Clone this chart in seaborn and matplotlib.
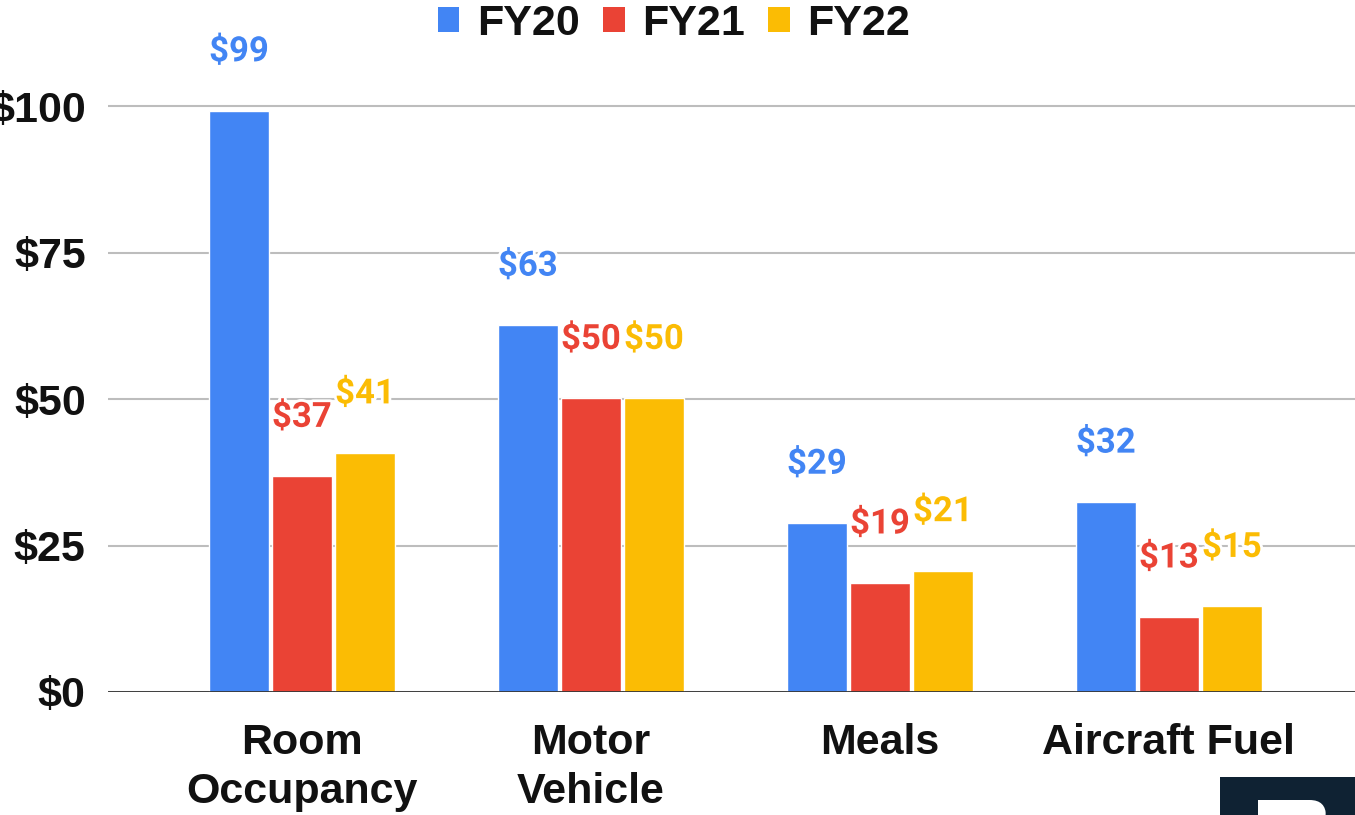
import pandas as pd
import matplotlib
matplotlib.use("Agg")
import matplotlib.pyplot as plt
import matplotlib.patheffects as pe
from matplotlib.patches import Patch, Rectangle, FancyBboxPatch
import seaborn as sns

# chart data
categories = ["Room\nOccupancy", "Motor\nVehicle", "Meals", "Aircraft Fuel"]
years = ["FY20", "FY21", "FY22"]
fy20 = [99.2, 62.6, 28.8, 32.4]
fy21 = [36.8, 50.1, 18.6, 12.8]
fy22 = [40.8, 50.1, 20.7, 14.6]
colors = ["#4285F4", "#EA4335", "#FBBC04"]
yticks = [0, 25, 50, 75, 100]

rows = []
for year, vals in zip(years, [fy20, fy21, fy22]):
    for cat, v in zip(categories, vals):
        rows.append({"category": cat, "year": year, "value": v})
df = pd.DataFrame(rows)

sns.set_style("white")
plt.rcParams["font.family"] = ["Liberation Sans", "DejaVu Sans"]

fig = plt.figure(figsize=(13.55, 8.15), dpi=100)
ax = fig.add_axes([108 / 1355, 1 - 692 / 815, 1 - 108 / 1355, 692 / 815])

sns.barplot(data=df, x="category", y="value", hue="year", order=categories,
            hue_order=years, palette=colors, width=0.654, gap=0.05,
            saturation=1, legend=False, ax=ax)

ax.set_xlim(-0.671, 3.644)
ax.set_ylim(0, 118.1)
ax.set_yticks(yticks)
ax.set_yticklabels([f"${t}" for t in yticks], fontsize=31, fontweight="bold",
                   color="#111111")
ax.tick_params(axis="y", length=0, pad=16)
ax.tick_params(axis="x", length=0, pad=22)
for lbl in ax.get_xticklabels():
    lbl.set_fontsize(31)
    lbl.set_fontweight("bold")
    lbl.set_color("#111111")
    lbl.set_linespacing(1.3)
ax.set_xlabel("")
ax.set_ylabel("")
ax.yaxis.grid(True, color="#bdbdbd", lw=1.5)
ax.set_axisbelow(True)
for s in ["top", "right", "left", "bottom"]:
    ax.spines[s].set_visible(False)
ax.axhline(0, color="#333333", lw=2, zorder=5)

# value labels above bars
for cont, col in zip(ax.containers, colors):
    for bar in cont:
        h = bar.get_height()
        ax.annotate(f"${h:.0f}", (bar.get_x() + bar.get_width() / 2, h),
                    xytext=(0, 42.5), textcoords="offset points",
                    ha="center", va="center", fontsize=25, fontweight="bold",
                    family=["Roboto", "DejaVu Sans"], color=col,
                    path_effects=[pe.withStroke(linewidth=4, foreground="white")])

handles = [Patch(facecolor=c, edgecolor="none") for c in colors]
fig.legend(handles, years, loc="center", bbox_to_anchor=(674 / 1355, 1 - 24 / 815),
           ncol=3, frameon=False, handlelength=0.5, handleheight=0.5,
           handletextpad=0.4, columnspacing=0.55,
           prop={"size": 31, "weight": "bold"}, labelcolor="#111111")

# corner logo fragment
fig.patches.append(Rectangle((1220 / 1355, 0), 135 / 1355, 38 / 815,
                             transform=fig.transFigure, facecolor="#0f2233",
                             edgecolor="none"))
fig.patches.append(Rectangle((1258 / 1355, 0), 40 / 1355, 15 / 815,
                             transform=fig.transFigure, facecolor="white",
                             edgecolor="none"))
fig.patches.append(FancyBboxPatch((1270 / 1355, -12 / 815), 56 / 1355, 27 / 815,
                                  boxstyle="round,pad=0,rounding_size=0.012",
                                  transform=fig.transFigure, facecolor="white",
                                  edgecolor="none", mutation_aspect=1355 / 815))

fig.savefig("out.png", dpi=100)
